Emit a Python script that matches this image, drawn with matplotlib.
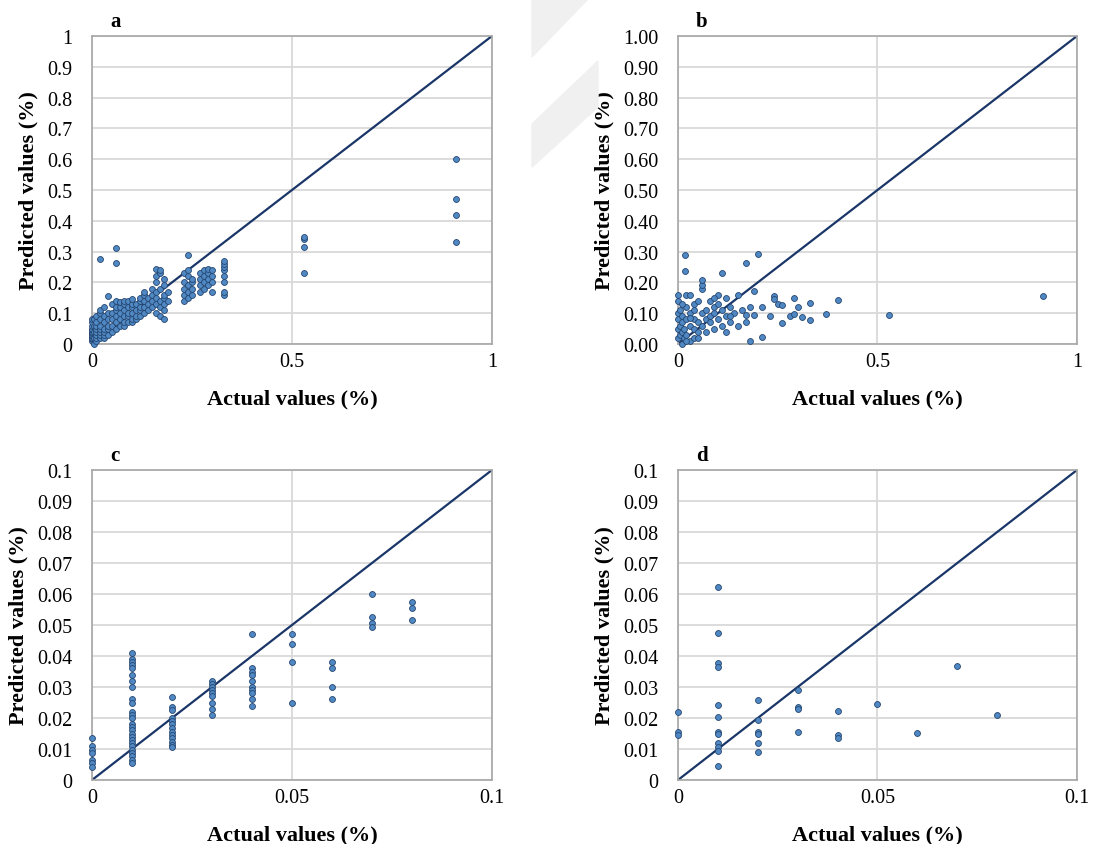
import matplotlib.pyplot as plt
from matplotlib.patches import Polygon
import numpy as np

plt.rcParams['font.family'] = ['Liberation Serif', 'DejaVu Serif']

# ---- panel a: actual value -> predicted values
a_cols = {
    0.000: [0.01, 0.015, 0.02, 0.025, 0.03, 0.035, 0.04, 0.045, 0.05, 0.06, 0.07, 0.08],
    0.005: [0.0, 0.02, 0.04, 0.06, 0.08],
    0.010: [0.01, 0.02, 0.03, 0.04, 0.05, 0.06, 0.07, 0.09],
    0.020: [0.02, 0.03, 0.04, 0.05, 0.06, 0.08, 0.10, 0.11],
    0.021: [0.276],
    0.030: [0.02, 0.03, 0.04, 0.05, 0.07, 0.09, 0.12],
    0.040: [0.03, 0.05, 0.06, 0.08, 0.10, 0.155],
    0.050: [0.04, 0.06, 0.08, 0.10, 0.13],
    0.060: [0.05, 0.07, 0.09, 0.11, 0.12, 0.14, 0.262, 0.312],
    0.070: [0.06, 0.08, 0.10, 0.12, 0.135],
    0.080: [0.06, 0.07, 0.09, 0.11, 0.13, 0.14],
    0.090: [0.07, 0.09, 0.10, 0.12, 0.14],
    0.100: [0.07, 0.08, 0.10, 0.12, 0.13, 0.145],
    0.110: [0.08, 0.09, 0.11, 0.13],
    0.120: [0.09, 0.11, 0.12, 0.14, 0.15],
    0.130: [0.10, 0.12, 0.14, 0.16, 0.17],
    0.140: [0.11, 0.13, 0.15],
    0.150: [0.12, 0.14, 0.16, 0.18],
    0.160: [0.10, 0.13, 0.15, 0.17, 0.20, 0.22, 0.245],
    0.170: [0.09, 0.12, 0.14, 0.18, 0.23, 0.24],
    0.180: [0.08, 0.11, 0.13, 0.15, 0.16, 0.19, 0.21],
    0.190: [0.14, 0.17],
    0.230: [0.14, 0.16, 0.18, 0.20, 0.23],
    0.240: [0.15, 0.17, 0.19, 0.22, 0.24, 0.288],
    0.250: [0.16, 0.18, 0.20, 0.21],
    0.270: [0.17, 0.19, 0.21, 0.23],
    0.280: [0.18, 0.20, 0.22, 0.24],
    0.290: [0.19, 0.21, 0.23, 0.245],
    0.300: [0.17, 0.20, 0.22, 0.24],
    0.330: [0.16, 0.17, 0.20, 0.22, 0.24, 0.25, 0.26, 0.27],
    0.530: [0.23, 0.315, 0.34, 0.348],
    0.910: [0.33, 0.42, 0.47, 0.60],
}

# ---- panel b
b_x = [0.0, 0.0, 0.0, 0.0, 0.0, 0.0, 0.005, 0.005, 0.005, 0.01, 0.01, 0.01, 0.01,
       0.015, 0.015, 0.02, 0.02, 0.02, 0.018, 0.018, 0.02, 0.03, 0.03, 0.03, 0.03,
       0.04, 0.04, 0.04, 0.04, 0.05, 0.05, 0.05, 0.06, 0.06, 0.06, 0.06, 0.06,
       0.07, 0.07, 0.08, 0.08, 0.08, 0.09, 0.09, 0.09, 0.10, 0.10, 0.10, 0.11,
       0.11, 0.11, 0.12, 0.12, 0.12, 0.13, 0.13, 0.14, 0.15, 0.15, 0.16, 0.17,
       0.17, 0.17, 0.18, 0.18, 0.19, 0.19, 0.20, 0.21, 0.21, 0.23, 0.24, 0.24,
       0.25, 0.26, 0.26, 0.28, 0.29, 0.29, 0.30, 0.31, 0.33, 0.33, 0.37, 0.40,
       0.53, 0.914, 0.02, 0.04, 0.07, 0.09, 0.13, 0.01, 0.03, 0.05]
b_y = [0.02, 0.05, 0.08, 0.10, 0.14, 0.16, 0.03, 0.06, 0.11, 0.0, 0.04, 0.07, 0.09,
       0.02, 0.05, 0.03, 0.08, 0.12, 0.29, 0.238, 0.16, 0.01, 0.06, 0.10, 0.16,
       0.02, 0.05, 0.08, 0.13, 0.04, 0.07, 0.14, 0.18, 0.19, 0.207, 0.06, 0.10,
       0.08, 0.11, 0.09, 0.07, 0.14, 0.10, 0.12, 0.05, 0.08, 0.13, 0.16, 0.23,
       0.11, 0.06, 0.09, 0.15, 0.04, 0.12, 0.07, 0.10, 0.16, 0.06, 0.11, 0.262,
       0.094, 0.07, 0.12, 0.011, 0.173, 0.094, 0.292, 0.119, 0.024, 0.09, 0.157,
       0.145, 0.13, 0.127, 0.069, 0.09, 0.149, 0.097, 0.119, 0.088, 0.134, 0.078,
       0.097, 0.142, 0.094, 0.155, 0.01, 0.11, 0.04, 0.15, 0.09, 0.13, 0.085, 0.02]

# ---- panel c
c_cols = {
    0.00: [0.0135, 0.011, 0.0097, 0.0088, 0.0065, 0.0054, 0.0043],
    0.01: [0.041, 0.039, 0.038, 0.037, 0.036, 0.034, 0.032, 0.030, 0.026, 0.025,
           0.022, 0.021, 0.020, 0.018, 0.017, 0.016, 0.015, 0.014, 0.013, 0.012,
           0.011, 0.0097, 0.0086, 0.0076, 0.0065, 0.0054],
    0.02: [0.0268, 0.0235, 0.0227, 0.020, 0.019, 0.018, 0.0167, 0.0156, 0.0146,
           0.0135, 0.0124, 0.0113, 0.0106],
    0.03: [0.032, 0.031, 0.030, 0.029, 0.028, 0.027, 0.025, 0.023, 0.021],
    0.04: [0.0472, 0.036, 0.035, 0.034, 0.032, 0.030, 0.029, 0.028, 0.026, 0.024],
    0.05: [0.047, 0.044, 0.038, 0.025],
    0.06: [0.038, 0.036, 0.030, 0.026],
    0.07: [0.060, 0.0525, 0.0505, 0.0494],
    0.08: [0.0575, 0.0556, 0.0516],
}

# ---- panel d
d_cols = {
    0.00: [0.0218, 0.0154, 0.0146],
    0.01: [0.0623, 0.0474, 0.0377, 0.0363, 0.0243, 0.0204, 0.0154, 0.0147,
           0.0119, 0.0105, 0.0095, 0.0044],
    0.02: [0.0257, 0.0192, 0.0154, 0.0147, 0.012, 0.009],
    0.03: [0.0289, 0.0234, 0.0229, 0.0155],
    0.04: [0.0222, 0.0146, 0.0134],
    0.05: [0.0246],
    0.06: [0.0151],
    0.07: [0.0368],
    0.08: [0.0211],
}

big_yticks = ['0', '0.1', '0.2', '0.3', '0.4', '0.5', '0.6', '0.7', '0.8', '0.9', '1']
b_yticks = ['0.00', '0.10', '0.20', '0.30', '0.40', '0.50', '0.60', '0.70', '0.80', '0.90', '1.00']
big_xticks = ['0', '0.5', '1']
small_yticks = ['0', '0.01', '0.02', '0.03', '0.04', '0.05', '0.06', '0.07', '0.08', '0.09', '0.1']
small_xticks = ['0', '0.05', '0.1']


def flatten(cols):
    xs, ys = [], []
    for k, v in cols.items():
        xs += [k] * len(v)
        ys += v
    return xs, ys


W, H = 1093, 845
fig = plt.figure(figsize=(W / 100, H / 100), dpi=100)

# faint watermark stripe
fig.patches.append(Polygon([(532 / W, 1), (588 / W, 1), (532 / W, 1 - 58 / H)],
                           closed=True, transform=fig.transFigure, color='#f0f0f0', zorder=0))
fig.patches.append(Polygon([(532 / W, 1 - 125 / H), (598 / W, 1 - 62 / H),
                            (598 / W, 1 - 108 / H), (532 / W, 1 - 168 / H)],
                           closed=True, transform=fig.transFigure, color='#f0f0f0', zorder=0))


def panel(box, xs, ys, lim, yticks, xticks, letter):
    l, t, r, b = box
    ax = fig.add_axes([l / W, 1 - b / H, (r - l) / W, (b - t) / H])
    ax.set_facecolor('none')
    ax.set_xlim(0, lim)
    ax.set_ylim(0, lim)
    ax.set_yticks(np.linspace(0, lim, len(yticks)))
    ax.set_yticklabels(yticks)
    ax.set_xticks(np.linspace(0, lim, len(xticks)))
    ax.set_xticklabels(xticks)
    ax.tick_params(length=0, labelsize=14.5)
    ax.tick_params(axis='y', pad=14)
    ax.tick_params(axis='x', pad=6)
    ax.grid(True, color='#d9d9d9', linewidth=1.3)
    ax.set_axisbelow(True)
    for s in ax.spines.values():
        s.set_color('#a6a6a6')
        s.set_linewidth(1.2)
    ax.plot([0, lim], [0, lim], color='#1a3668', linewidth=1.6, zorder=2)
    ax.scatter(xs, ys, s=18, facecolor='#5088c4', edgecolor='#24456e',
               linewidth=0.6, zorder=3, clip_on=False)
    ax.set_xlabel('Actual values (%)', fontsize=16, fontweight='bold', labelpad=12)
    ax.set_ylabel('Predicted values (%)', fontsize=16, fontweight='bold', labelpad=6)
    ax.text(0.045, 1.015, letter, transform=ax.transAxes, fontsize=15,
            fontweight='bold', ha='left', va='bottom')
    return ax


ax_a = panel((92, 37, 492, 345), *flatten(a_cols), 1.0, big_yticks, big_xticks, 'a')
ax_b = panel((678, 37, 1077, 345), b_x, b_y, 1.0, b_yticks, big_xticks, 'b')
ax_c = panel((92, 471, 492, 781), *flatten(c_cols), 0.1, small_yticks, small_xticks, 'c')
ax_d = panel((678, 471, 1077, 781), *flatten(d_cols), 0.1, small_yticks, small_xticks, 'd')

fig.savefig('out.png', dpi=100)
